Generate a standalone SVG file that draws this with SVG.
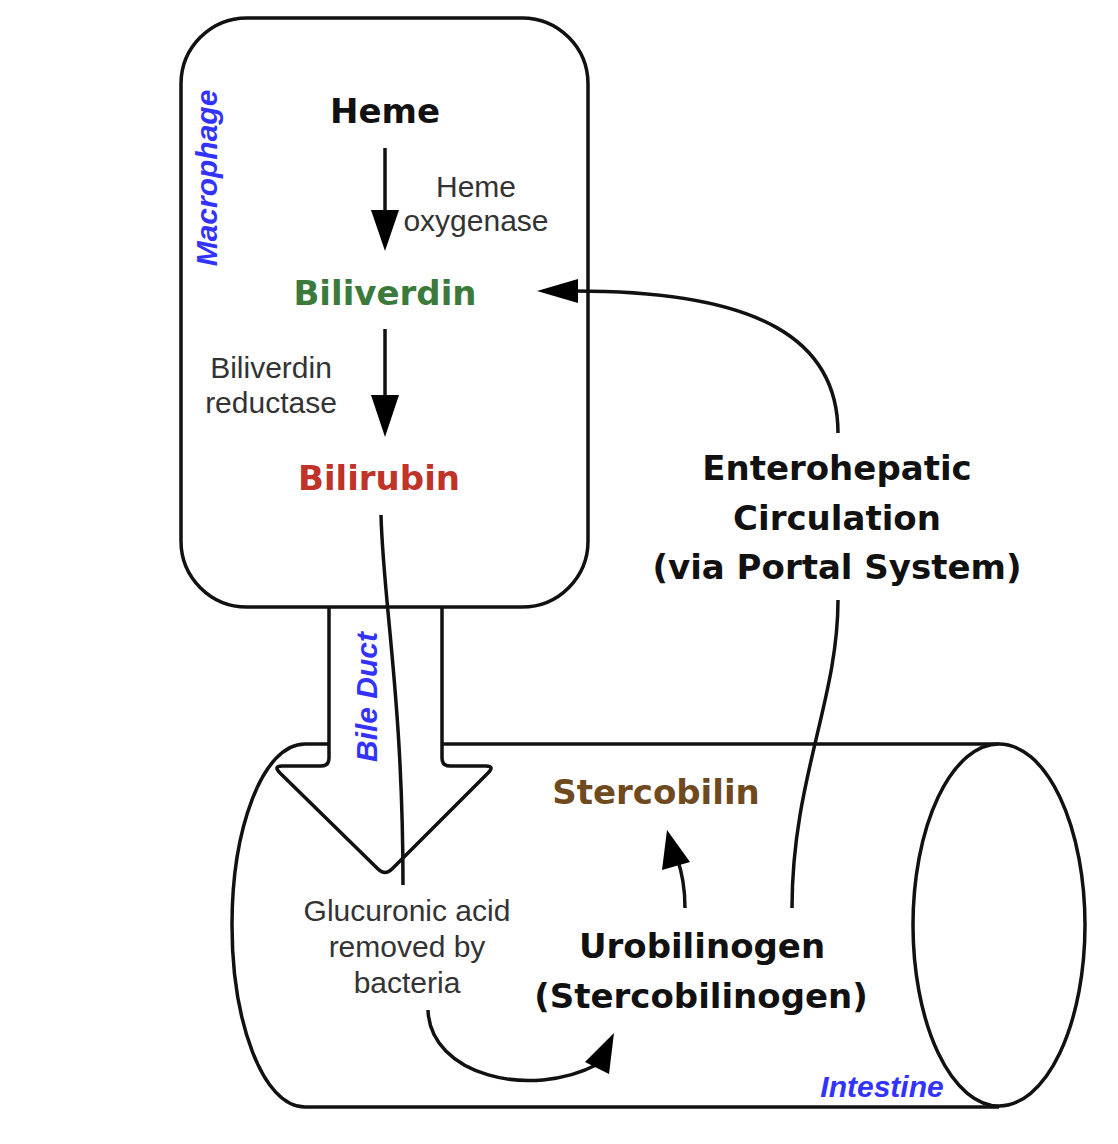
<svg xmlns="http://www.w3.org/2000/svg" width="1118" height="1144" viewBox="0 0 1118 1144">
<style>
.shape{fill:#fff;stroke:#111;stroke-width:3.5;stroke-linejoin:round}
.line{fill:none;stroke:#111;stroke-width:3.5;stroke-linecap:butt}
.head{fill:#000;stroke:none}
.big{font-family:"DejaVu Sans",Verdana,sans-serif;font-weight:bold;font-size:34px;text-anchor:middle}
.small{font-family:"Liberation Sans",Arial,sans-serif;font-size:30px;fill:#333;text-anchor:middle}
.blue{font-family:"Liberation Sans",Arial,sans-serif;font-weight:bold;font-style:italic;font-size:30px;fill:#3333ff;text-anchor:middle}
</style>
<rect width="1118" height="1144" fill="#fff"/>
<g id="intestine">
  <path class="shape" d="M 999 744 L 305 744 C 262 744 232 830 232 925 C 232 1020 262 1107 305 1107 L 999 1107"/>
  <ellipse class="shape" cx="999" cy="925" rx="86" ry="181"/>
  <text class="blue" x="882" y="1097">Intestine</text>
</g>
<g id="bile-duct">
  <path class="shape" d="M 329 607 L 329 758 Q 329 766 321 766 L 282 766 Q 273 766 280 773 L 378 869 Q 385 876 392 869 L 488 773 Q 495 766 486 766 L 450 766 Q 442 766 442 758 L 442 607"/>
  <text class="blue" transform="translate(377,697) rotate(-90)">Bile Duct</text>
</g>
<g id="macrophage">
  <rect class="shape" x="181" y="18" width="407" height="589" rx="66" ry="66"/>
  <text class="blue" transform="translate(217,178) rotate(-90)">Macrophage</text>
</g>
<g id="heme"><text class="big" x="385" y="123" fill="#111">Heme</text></g>
<g id="heme-oxygenase"><text class="small" x="476" y="197">Heme</text><text class="small" x="476" y="231">oxygenase</text></g>
<g id="biliverdin"><text class="big" x="385" y="305" fill="#3b7a3b">Biliverdin</text></g>
<g id="biliverdin-reductase"><text class="small" x="271" y="378">Biliverdin</text><text class="small" x="271" y="413">reductase</text></g>
<g id="bilirubin"><text class="big" x="379" y="490" fill="#bf3328">Bilirubin</text></g>
<g id="enterohepatic"><text class="big" x="837" y="480" fill="#111">Enterohepatic</text><text class="big" x="837" y="530" fill="#111">Circulation</text><text class="big" x="837" y="579" fill="#111">(via Portal System)</text></g>
<g id="stercobilin"><text class="big" x="656" y="804" fill="#6e4a1e">Stercobilin</text></g>
<g id="glucuronic"><text class="small" x="407" y="921">Glucuronic acid</text><text class="small" x="407" y="957">removed by</text><text class="small" x="407" y="993">bacteria</text></g>
<g id="urobilinogen"><text class="big" x="702" y="958" fill="#111">Urobilinogen</text><text class="big" x="701" y="1008" fill="#111">(Stercobilinogen)</text></g>
<g id="connectors">
  <line class="line" x1="385" y1="148" x2="385" y2="215"/>
  <polygon class="head" points="371,210 399,210 385,251"/>
  <line class="line" x1="385" y1="329" x2="385" y2="400"/>
  <polygon class="head" points="371,395 399,395 385,437"/>
  <path class="line" d="M 381 515 C 383 600 403 700 403 885"/>
  <path class="line" d="M 838 433 C 838 340 760 291 575 291"/>
  <polygon class="head" points="537,291 578,279 578,303"/>
  <path class="line" d="M 838 600 C 838 700 792 780 792 908"/>
  <path class="line" d="M 685 908 C 685 888 682 872 677 858"/>
  <polygon class="head" points="667,830 662,870 690,862"/>
  <path class="line" d="M 428 1010 C 430 1075 530 1100 598 1064"/>
  <polygon class="head" points="614,1033 585,1062 609,1074"/>
</g>
</svg>
